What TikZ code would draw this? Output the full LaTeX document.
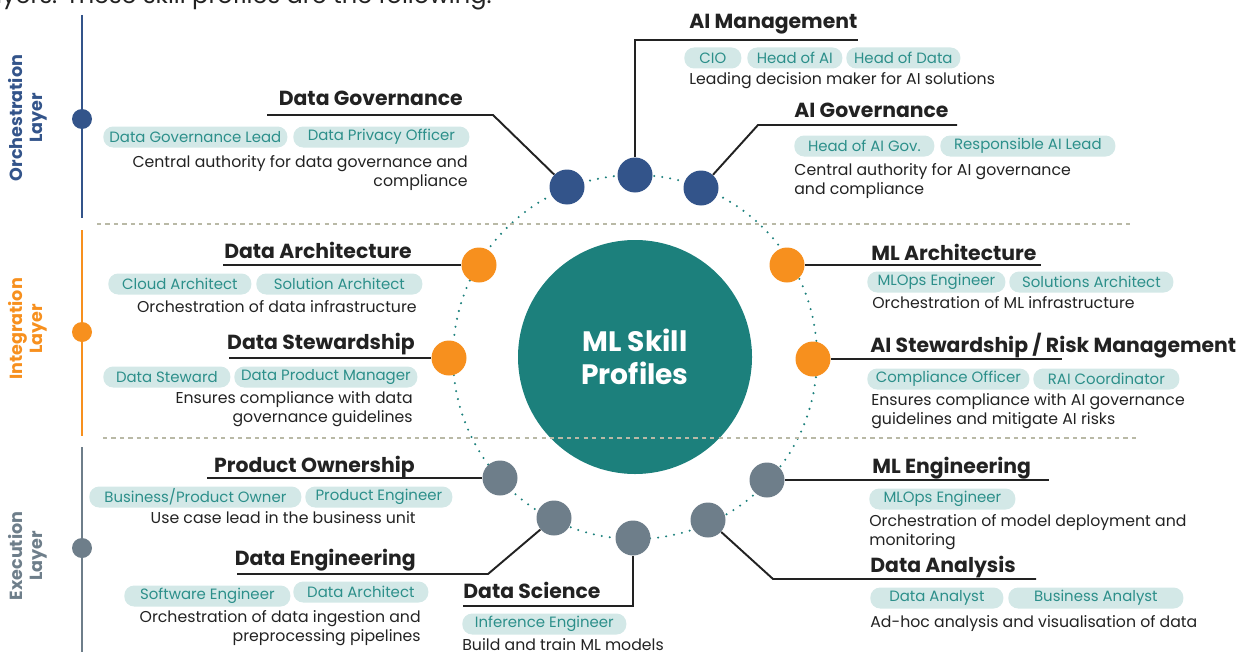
\documentclass[tikz,border=0pt]{standalone}
\usepackage{fontspec}
\setmainfont{Poppins}
\definecolor{orchblue}{HTML}{33548A}
\definecolor{integorange}{HTML}{F7901E}
\definecolor{execgray}{HTML}{6E7E8A}
\definecolor{coreteal}{HTML}{1C807C}
\definecolor{pillbg}{HTML}{D3E8E7}
\definecolor{pilltext}{HTML}{2C8F8A}
\definecolor{sepgray}{HTML}{B9B9A6}
\definecolor{ink}{HTML}{222222}
\begin{document}
\begin{tikzpicture}[x=0.02cm, y=-0.02cm,
    every node/.style={inner sep=0pt, text=ink},
    profdot/.style={circle, fill=#1, minimum size=35*0.02cm},
    layerdot/.style={circle, fill=#1, minimum size=20*0.02cm},
    layerline/.style={#1, line width=1.1pt},
    layertext/.style={text=#1, rotate=90, align=center, font=\fontsize{10}{11.5}\selectfont\bfseries},
    profhead/.style={font=\fontsize{11.6}{13}\selectfont\bfseries},
    profdesc/.style={font=\fontsize{8.95}{10.8}\selectfont},
    pill/.style={fill=pillbg, text=pilltext, rounded corners=5.6pt, minimum height=21*0.02cm, minimum width=#1*0.02cm, font=\fontsize{8.5}{10}\selectfont, anchor=west},
    wire/.style={ink, line width=1.1pt},
    ring/.style={coreteal, line width=1.3pt, line cap=round, dash pattern=on 0pt off 4.6pt},
    layersep/.style={sepgray, line width=1pt, dash pattern=on 2.4pt off 2.4pt}]
  \useasboundingbox (0,0) rectangle (1239,652);
  \clip (0,0) rectangle (1239,652);

  \node[anchor=base east, font=\fontsize{13.7}{15}\selectfont] at (492,4) (intro) {layers. These skill profiles are the following.};

  \draw[layerline=orchblue] (82,15) -- (82,218);
  \draw[layerline=integorange] (82,230) -- (82,436);
  \draw[layerline=execgray] (82,447) -- (82,652);
  \node[layerdot=orchblue] at (82,119) (orchdot) {};
  \node[layerdot=integorange] at (82,332) (integdot) {};
  \node[layerdot=execgray] at (82,548) (execdot) {};
  \node[layertext=orchblue] at (28,118) (orchlabel) {Orchestration\\Layer};
  \node[layertext=integorange] at (28,329) (integlabel) {Integration\\Layer};
  \node[layertext=execgray] at (28,556) (execlabel) {Execution\\Layer};

  \node[circle, fill=coreteal, minimum size=234*0.02cm, text=white, align=center,
    font=\fontsize{16}{19}\selectfont\bfseries] at (635,357) (core) {ML Skill\\Profiles};
  \draw[ring] (core.center) circle[radius=182*0.02cm];

  \draw[layersep] (97,224) -- (1131,224);
  \draw[layersep] (103,438) -- (1137,438);

  \node[profdot=orchblue] at (635,175) (aimgmt) {};
  \node[profdot=orchblue] at (567,187) (dgov) {};
  \node[profdot=orchblue] at (701,188) (aigov) {};
  \node[profdot=integorange] at (479,265) (darch) {};
  \node[profdot=integorange] at (449,358) (dstew) {};
  \node[profdot=integorange] at (787,265) (mlarch) {};
  \node[profdot=integorange] at (813,359) (aistew) {};
  \node[profdot=execgray] at (500,478) (prodown) {};
  \node[profdot=execgray] at (554,518) (dataeng) {};
  \node[profdot=execgray] at (633,538) (datasci) {};
  \node[profdot=execgray] at (708,520) (dataan) {};
  \node[profdot=execgray] at (767,480) (mleng) {};

  \coordinate (aimgmtbend) at (635,40);
  \coordinate (aimgmtend) at (858,40);
  \coordinate (aigovbend) at (758,125);
  \coordinate (aigovend) at (957,125);
  \coordinate (dgovbend) at (493,115);
  \coordinate (dgovend) at (267,115);
  \coordinate (darchend) at (223,265);
  \coordinate (dstewend) at (229,358);
  \coordinate (mlarchend) at (1041,265);
  \coordinate (aistewend) at (1062,359);
  \coordinate (prodownend) at (207,478);
  \coordinate (dataengbend) at (488,574);
  \coordinate (dataengend) at (237,574);
  \coordinate (datascibend) at (633,606);
  \coordinate (datasciend) at (463,606);
  \coordinate (mlengend) at (1049,480);
  \coordinate (dataanbend) at (773,579);
  \coordinate (dataanend) at (1036,579);

  \draw[wire] (aimgmt) -- (aimgmtbend) -- (aimgmtend);
  \draw[wire] (aigov) -- (aigovbend) -- (aigovend);
  \draw[wire] (dgov) -- (dgovbend) -- (dgovend);
  \draw[wire] (darch) -- (darchend);
  \draw[wire] (dstew) -- (dstewend);
  \draw[wire] (mlarch) -- (mlarchend);
  \draw[wire] (aistew) -- (aistewend);
  \draw[wire] (prodown) -- (prodownend);
  \draw[wire] (dataeng) -- (dataengbend) -- (dataengend);
  \draw[wire] (datasci) -- (datascibend) -- (datasciend);
  \draw[wire] (mleng) -- (mlengend);
  \draw[wire] (dataan) -- (dataanbend) -- (dataanend);

  % orchestration layer
  \node[profhead, anchor=base west] at (689,29) (aimgmthead) {AI Management};
  \node[pill=57] at (684,58) (aimgmtp1) {CIO};
  \node[pill=95] at (747,58) (aimgmtp2) {Head of AI};
  \node[pill=114] at (846,58) (aimgmtp3) {Head of Data};
  \node[profdesc, anchor=mid west] at (689,80) (aimgmtdesc) {Leading decision maker for AI solutions};

  \node[profhead, anchor=base west] at (794,117) (aigovhead) {AI Governance};
  \node[pill=140] at (794,146) (aigovp1) {Head of AI Gov.};
  \node[pill=175] at (940,146) (aigovp2) {Responsible AI Lead};
  \node[profdesc, align=left, anchor=north west] at (794,163) (aigovdesc) {Central authority for AI governance\\and compliance};

  \node[profhead, anchor=base east] at (463,106) (dgovhead) {Data Governance};
  \node[pill=184] at (103,137) (dgovp1) {Data Governance Lead};
  \node[pill=176] at (293,137) (dgovp2) {Data Privacy Officer};
  \node[profdesc, align=right, anchor=north east] at (468,155) (dgovdesc) {Central authority for data governance and\\compliance};

  % integration layer
  \node[profhead, anchor=base east] at (412,258) (darchhead) {Data Architecture};
  \node[pill=143] at (108,284) (darchp1) {Cloud Architect};
  \node[pill=166] at (256,284) (darchp2) {Solution Architect};
  \node[profdesc, anchor=mid east] at (417,308) (darchdesc) {Orchestration of data infrastructure};

  \node[profhead, anchor=base east] at (415,349) (dstewhead) {Data Stewardship};
  \node[pill=127] at (103,377) (dstewp1) {Data Steward};
  \node[pill=183] at (234,377) (dstewp2) {Data Product Manager};
  \node[profdesc, align=right, anchor=north east] at (413,391) (dstewdesc) {Ensures compliance with data\\governance guidelines};

  \node[profhead, anchor=base west] at (871,260) (mlarchhead) {ML Architecture};
  \node[pill=138] at (867,282) (mlarchp1) {MLOps Engineer};
  \node[pill=164] at (1009,282) (mlarchp2) {Solutions Architect};
  \node[profdesc, anchor=mid west] at (872,304) (mlarchdesc) {Orchestration of ML infrastructure};

  \node[profhead, anchor=base west] at (870,352) (aistewhead) {AI Stewardship / Risk Management};
  \node[pill=162] at (867,379) (aistewp1) {Compliance Officer};
  \node[pill=146] at (1033,379) (aistewp2) {RAI Coordinator};
  \node[profdesc, align=left, anchor=north west] at (871,393) (aistewdesc) {Ensures compliance with AI governance\\guidelines and mitigate AI risks};

  % execution layer
  \node[profhead, anchor=base east] at (415,472) (prodownhead) {Product Ownership};
  \node[pill=212] at (89,497) (prodownp1) {Business/Product Owner};
  \node[pill=147] at (305,497) (prodownp2) {Product Engineer};
  \node[profdesc, anchor=mid east] at (416,519) (prodowndesc) {Use case lead in the business unit};

  \node[profhead, anchor=base east] at (416,565) (dataenghead) {Data Engineering};
  \node[pill=166] at (124,596) (dataengp1) {Software Engineer};
  \node[pill=135] at (293,592) (dataengp2) {Data Architect};
  \node[profdesc, align=right, anchor=north east] at (421,610) (dataengdesc) {Orchestration of data ingestion and\\preprocessing pipelines};

  \node[profhead, anchor=base west] at (463,598) (datascihead) {Data Science};
  \node[pill=164] at (462,624) (datascip1) {Inference Engineer};
  \node[profdesc, anchor=mid west] at (462,646) (datascidesc) {Build and train ML models};

  \node[profhead, anchor=base west] at (872,473) (mlenghead) {ML Engineering};
  \node[pill=146] at (869,499) (mlengp1) {MLOps Engineer};
  \node[profdesc, align=left, anchor=north west] at (869,514) (mlengdesc) {Orchestration of model deployment and\\monitoring};

  \node[profhead, anchor=base west] at (870,572) (dataanhead) {Data Analysis};
  \node[pill=133] at (870,598) (dataanp1) {Data Analyst};
  \node[pill=175] at (1008,598) (dataanp2) {Business Analyst};
  \node[profdesc, anchor=mid west] at (870,623) (dataandesc) {Ad-hoc analysis and visualisation of data};
\end{tikzpicture}
\end{document}
